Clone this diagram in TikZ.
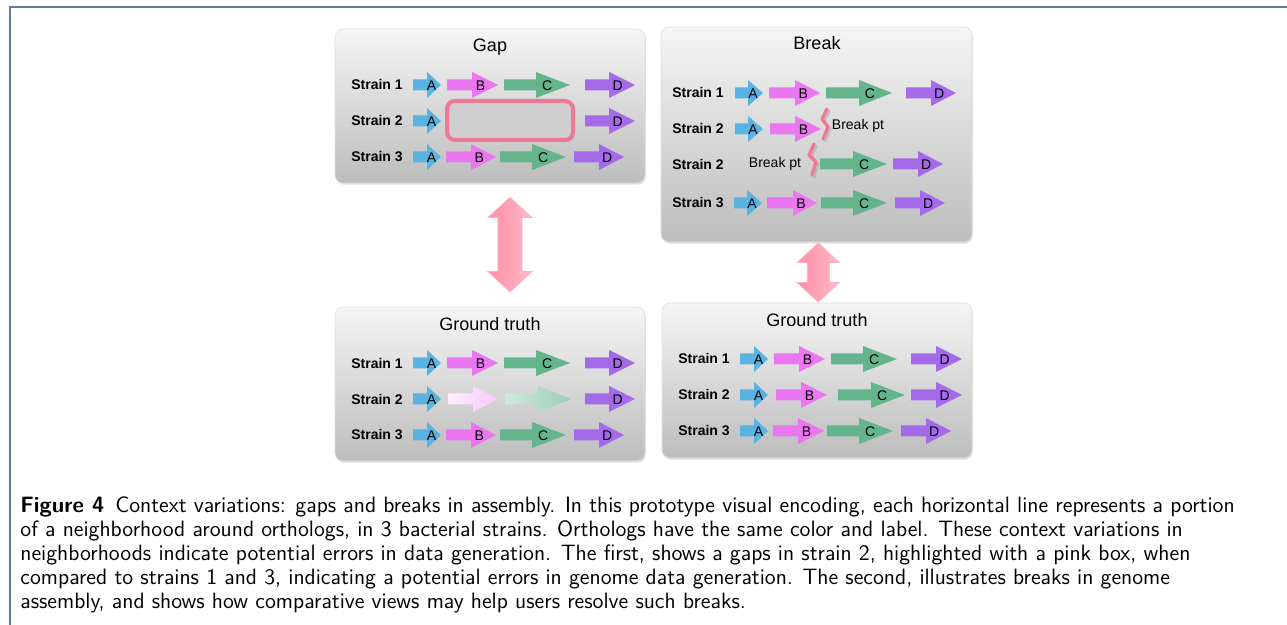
\documentclass[tikz,border=0pt]{standalone}
\usepackage{fontspec}
\newfontfamily\hel{Liberation Sans}
\usetikzlibrary{calc,shadows}
\definecolor{geneA}{RGB}{88,178,226}
\definecolor{geneB}{RGB}{234,118,240}
\definecolor{geneC}{RGB}{100,180,140}
\definecolor{geneD}{RGB}{164,106,234}
\definecolor{pinkbox}{RGB}{240,120,146}
\definecolor{dblpink}{RGB}{255,140,165}
\definecolor{framec}{RGB}{92,124,156}
\tikzset{
  panel/.style={rounded corners=4pt, top color=black!4, bottom color=black!26,
    draw=black!12, line width=0.3pt, minimum width=155pt,
    drop shadow={shadow xshift=0.4pt, shadow yshift=-0.8pt, opacity=0.25}},
  ptitle/.style={font=\hel\fontsize{9}{10}\selectfont, inner sep=0pt},
  strain/.style={font=\hel\bfseries\fontsize{7}{8}\selectfont, inner sep=0pt},
  genelbl/.style={font=\hel\fontsize{7}{8}\selectfont, inner sep=0pt},
  bptext/.style={font=\hel\fontsize{7}{8}\selectfont, inner sep=0pt},
  caption/.style={font=\sffamily\fontsize{11.1}{12}\selectfont, inner sep=0pt, anchor=base west},
  squig/.style={pinkbox, line width=1.6pt, line join=round, line cap=round},
  squigsh/.style={black!35, line width=1.6pt, line join=round, line cap=round, opacity=0.5},
  dbl/.style={left color=dblpink, right color=dblpink!60, draw=dblpink!70, line width=0.4pt}
}
\newcommand\gene[7]{%
  \fill[#6] (#2,#5-5.5) -- (#3,#5-5.5) -- (#3,#5-13) -- (#4,#5) -- (#3,#5+13) -- (#3,#5+5.5) -- (#2,#5+5.5) -- cycle;
  \node[genelbl] (#1) at ({#3+0.33*(#4-#3)},#5+0.5) {#7};}
\newcommand\fgene[7]{%
  \shade[left color=#6, right color=#7] (#2,#5-5.5) -- (#3,#5-5.5) -- (#3,#5-13) -- (#4,#5) -- (#3,#5+13) -- (#3,#5+5.5) -- (#2,#5+5.5) -- cycle;}
\begin{document}
\begin{tikzpicture}[x=0.5pt,y=-0.5pt]
\useasboundingbox (0,0) rectangle (1287,625);
\fill[white] (0,0) rectangle (1287,625);
\draw[framec, line width=1pt] (9.5,625) -- (9.5,7.5) -- (1287,7.5);

% panels
\node[panel, minimum height=77pt] (gap) at (490,106) {};
\node[panel, minimum height=107.5pt, minimum width=155.5pt] (brk) at (816.5,134.5) {};
\node[panel, minimum height=77pt] (gtl) at (490,384) {};
\node[panel, minimum height=77.5pt] (gtr) at (817,380.5) {};

% titles
\node[ptitle] (tgap) at (490,47) {Gap};
\node[ptitle] (tbrk) at (817,43) {Break};
\node[ptitle] (tgtl) at (490,324) {Ground truth};
\node[ptitle] (tgtr) at (817,320) {Ground truth};

% ---------- Gap panel
\node[strain] (g1) at (377,85) {Strain 1};
\node[strain] (g2) at (377,121) {Strain 2};
\node[strain] (g3) at (377,157) {Strain 3};
\gene{g1a}{413}{427}{441}{85}{geneA}{A}
\gene{g1b}{447}{472}{498}{85}{geneB}{B}
\gene{g1c}{504}{536}{570}{85}{geneC}{C}
\gene{g1d}{585}{609}{635}{85}{geneD}{D}
\gene{g2a}{413}{427}{441}{121}{geneA}{A}
\gene{g2d}{585}{609}{635}{121}{geneD}{D}
\gene{g3a}{413}{427}{441}{157}{geneA}{A}
\gene{g3b}{446}{471}{496}{157}{geneB}{B}
\gene{g3c}{500}{532}{566}{157}{geneC}{C}
\gene{g3d}{574}{599}{624}{157}{geneD}{D}
\draw[pinkbox, line width=2pt, rounded corners=4pt, fill=black!19,
  drop shadow={shadow xshift=0.6pt, shadow yshift=-1pt, opacity=0.35}] (447,101) rectangle (573,140);

% ---------- Break panel
\node[strain] (b1) at (698,93) {Strain 1};
\node[strain] (b2) at (698,129) {Strain 2};
\node[strain] (b2b) at (698,165) {Strain 2};
\node[strain] (b3) at (698,203) {Strain 3};
\gene{b1a}{735}{748}{763}{93}{geneA}{A}
\gene{b1b}{769}{795}{820}{93}{geneB}{B}
\gene{b1c}{826}{859}{892}{93}{geneC}{C}
\gene{b1d}{906}{931}{956}{93}{geneD}{D}
\gene{b2a}{735}{748}{763}{129}{geneA}{A}
\gene{b2b}{770}{795}{821}{129}{geneB}{B}
\gene{b4c}{820}{853}{887}{164}{geneC}{C}
\gene{b4d}{893}{918}{943}{164}{geneD}{D}
\gene{b3a}{734}{747}{762}{203}{geneA}{A}
\gene{b3b}{767}{793}{817}{203}{geneB}{B}
\gene{b3c}{821}{853}{887}{203}{geneC}{C}
\gene{b3d}{895}{920}{945}{203}{geneD}{D}
\draw[squigsh] (829,111) -- (824,121) -- (830,129) -- (825,141);
\draw[squig] (827,109) -- (822,119) -- (828,127) -- (823,139);
\draw[squigsh] (816,146) -- (811,157) -- (818,164) -- (814,177);
\draw[squig] (814,144) -- (809,155) -- (816,162) -- (812,175);
\node[bptext] (bp1) at (858,126) {Break pt};
\node[bptext] (bp2) at (775,164) {Break pt};

% ---------- Ground truth left
\node[strain] (l1) at (377,363) {Strain 1};
\node[strain] (l2) at (377,399) {Strain 2};
\node[strain] (l3) at (377,435) {Strain 3};
\gene{l1a}{413}{427}{441}{363}{geneA}{A}
\gene{l1b}{447}{472}{498}{363}{geneB}{B}
\gene{l1c}{504}{536}{570}{363}{geneC}{C}
\gene{l1d}{585}{609}{635}{363}{geneD}{D}
\gene{l2a}{413}{427}{441}{399}{geneA}{A}
\fgene{l2b}{448}{473}{498}{399}{geneB!12}{geneB!40}
\fgene{l2c}{505}{538}{571}{399}{geneC!30}{geneC!65}
\gene{l2d}{585}{609}{635}{399}{geneD}{D}
\gene{l3a}{413}{427}{441}{435}{geneA}{A}
\gene{l3b}{446}{471}{496}{435}{geneB}{B}
\gene{l3c}{500}{532}{566}{435}{geneC}{C}
\gene{l3d}{574}{599}{624}{435}{geneD}{D}

% ---------- Ground truth right
\node[strain] (r1) at (704,359) {Strain 1};
\node[strain] (r2) at (704,395) {Strain 2};
\node[strain] (r3) at (704,431) {Strain 3};
\gene{r1a}{740}{754}{768}{359}{geneA}{A}
\gene{r1b}{774}{799}{825}{359}{geneB}{B}
\gene{r1c}{831}{863}{897}{359}{geneC}{C}
\gene{r1d}{911}{936}{962}{359}{geneD}{D}
\gene{r2a}{740}{754}{768}{395}{geneA}{A}
\gene{r2b}{776}{801}{827}{395}{geneB}{B}
\gene{r2c}{838}{871}{905}{395}{geneC}{C}
\gene{r2d}{911}{936}{962}{395}{geneD}{D}
\gene{r3a}{740}{754}{768}{431}{geneA}{A}
\gene{r3b}{773}{798}{824}{431}{geneB}{B}
\gene{r3c}{827}{859}{893}{431}{geneC}{C}
\gene{r3d}{901}{926}{951}{431}{geneD}{D}

% ---------- double arrows
\coordinate (m1) at ($(gap.south)!0.5!(gtl.north)+(20,0)$);
\coordinate (m2) at ($(brk.south)!0.5!(gtr.north)+(1.5,0)$);
\draw[dbl] ($(m1)+(0,-47.5)$) -- ++(22,20) -- ++(-10,0) -- ++(0,54) -- ++(10,0) -- ++(-22,20.5) -- ++(-22,-20.5) -- ++(10,0) -- ++(0,-54) -- ++(-10,0) -- cycle;
\draw[dbl] ($(m2)+(0,-29.5)$) -- ++(21,19.5) -- ++(-10,0) -- ++(0,20) -- ++(10,0) -- ++(-21,19.5) -- ++(-21,-19.5) -- ++(10,0) -- ++(0,-20) -- ++(-10,0) -- cycle;

% ---------- caption
\node[caption] (cap1) at (20,513) {\textbf{Figure 4}\hspace{0.5em}Context variations: gaps and breaks in assembly. In this prototype visual encoding, each horizontal line represents a portion};
\node[caption] (cap2) at (20,537) {of a neighborhood around orthologs, in 3 bacterial strains. Orthologs have the same color and label. These context variations in};
\node[caption] (cap3) at (20,561) {neighborhoods indicate potential errors in data generation. The first, shows a gaps in strain 2, highlighted with a pink box, when};
\node[caption] (cap4) at (20,585) {compared to strains 1 and 3, indicating a potential errors in genome data generation. The second, illustrates breaks in genome};
\node[caption] (cap5) at (20,609) {assembly, and shows how comparative views may help users resolve such breaks.};
\end{tikzpicture}
\end{document}
